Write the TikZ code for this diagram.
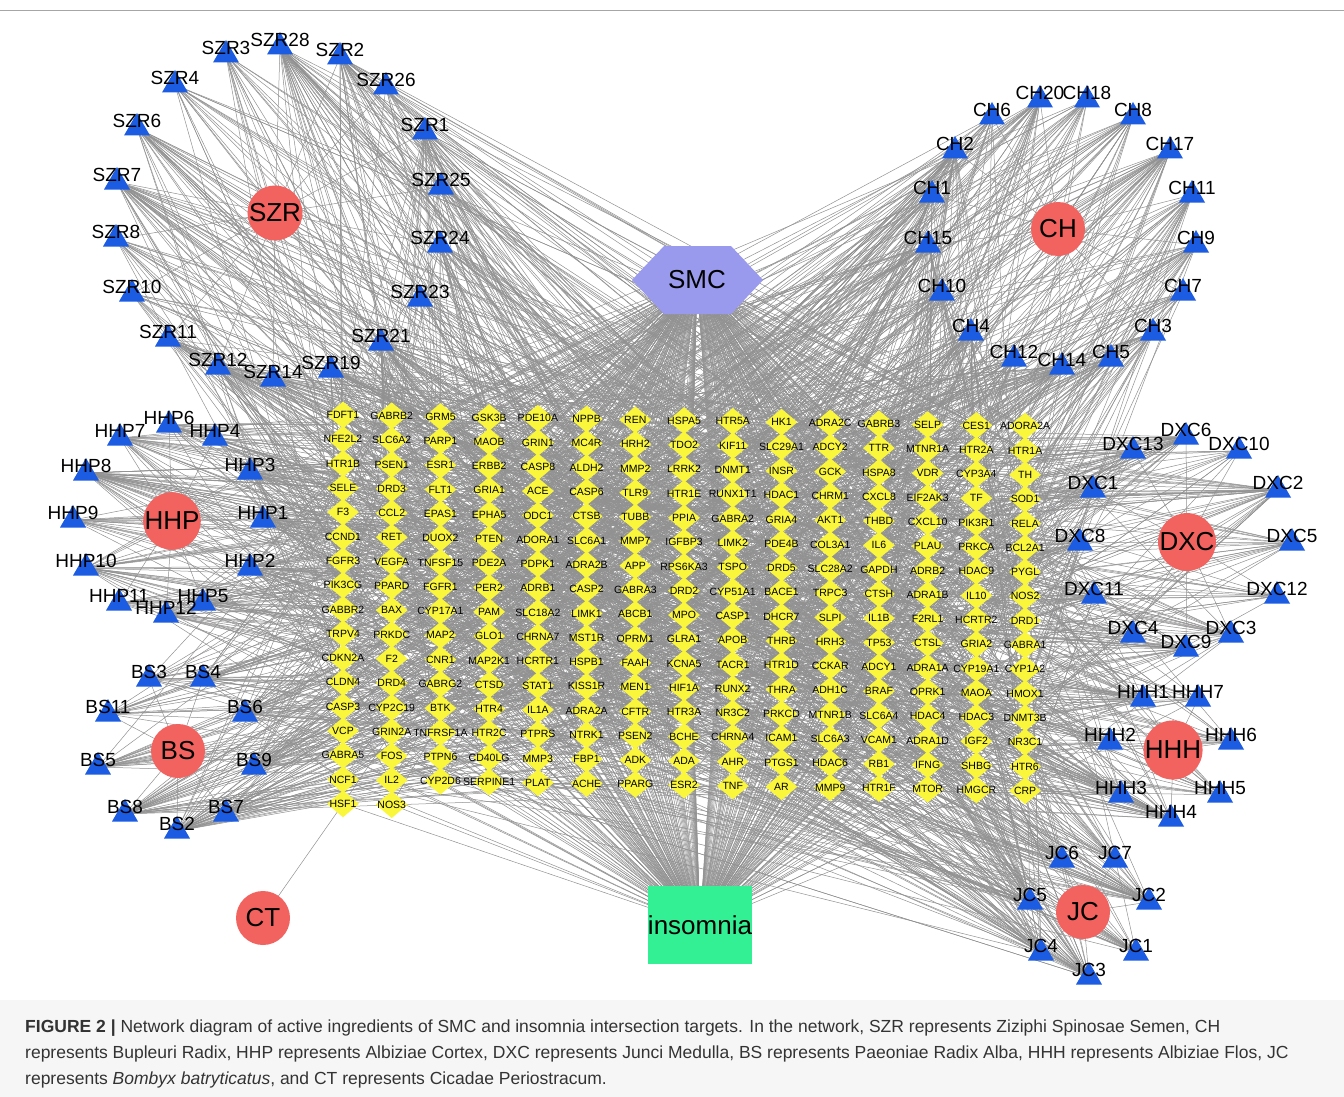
\documentclass[tikz,border=0pt]{standalone}
\usepackage{fontspec}
\setmainfont{Liberation Sans}
\usetikzlibrary{shapes.geometric}
\pgfdeclarelayer{bg}
\pgfsetlayers{bg,main}
\definecolor{herbred}{RGB}{242,98,94}
\definecolor{ingrblue}{RGB}{28,92,226}
\definecolor{geneyel}{RGB}{250,246,60}
\definecolor{smcblue}{RGB}{153,153,238}
\definecolor{insgreen}{RGB}{52,240,148}
\definecolor{edgegray}{RGB}{145,145,145}

\def\ingrlist{SZR/SZR3/226/48, SZR/SZR28/280/40, SZR/SZR2/340/50, SZR/SZR4/175/78,
  SZR/SZR26/386/80, SZR/SZR6/137/121, SZR/SZR1/425/125, SZR/SZR7/117/175,
  SZR/SZR25/441/180, SZR/SZR8/116/232, SZR/SZR24/440/238, SZR/SZR10/132/287,
  SZR/SZR23/420/292, SZR/SZR11/168/332, SZR/SZR21/381/336, SZR/SZR12/218/360,
  SZR/SZR14/273/372, SZR/SZR19/331/363,
  CH/CH20/1040/93, CH/CH18/1087/93, CH/CH6/992/110, CH/CH8/1133/110,
  CH/CH2/955/144, CH/CH17/1170/144, CH/CH1/932/188, CH/CH11/1192/188,
  CH/CH15/928/238, CH/CH9/1196/238, CH/CH10/942/286, CH/CH7/1183/286,
  CH/CH4/971/326, CH/CH3/1153/326, CH/CH12/1014/352, CH/CH14/1062/360,
  CH/CH5/1111/352,
  HHP/HHP6/169/418, HHP/HHP7/120/431, HHP/HHP4/215/431, HHP/HHP3/250/465,
  HHP/HHP8/86/466, HHP/HHP1/263/513, HHP/HHP9/73/513, HHP/HHP2/250/561,
  HHP/HHP10/86/561, HHP/HHP5/203/596, HHP/HHP11/119/596, HHP/HHP12/166/608,
  DXC/DXC6/1186/430, DXC/DXC13/1133/444, DXC/DXC10/1239/444, DXC/DXC1/1093/483,
  DXC/DXC2/1278/483, DXC/DXC8/1080/536, DXC/DXC5/1292/536, DXC/DXC11/1094/589,
  DXC/DXC12/1277/589, DXC/DXC4/1133/628, DXC/DXC3/1231/628, DXC/DXC9/1186/642,
  BS/BS3/149/672, BS/BS4/203/672, BS/BS11/108/707, BS/BS6/245/707,
  BS/BS5/98/760, BS/BS9/254/760, BS/BS8/125/807, BS/BS7/226/807, BS/BS2/177/824,
  HHH/HHH1/1143/692, HHH/HHH7/1198/692, HHH/HHH2/1110/735, HHH/HHH6/1231/735,
  HHH/HHH3/1121/788, HHH/HHH5/1220/788, HHH/HHH4/1171/812,
  JC/JC6/1062/853, JC/JC7/1115/853, JC/JC5/1030/895, JC/JC2/1149/895,
  JC/JC4/1041/946, JC/JC1/1136/946, JC/JC3/1089/970}

\begin{document}
\begin{tikzpicture}[x=1pt,y=-1pt,
  edge/.style={draw=edgegray,line width=0.5pt},
  gene/.style={diamond,fill=geneyel,inner sep=0pt,minimum width=32pt,minimum height=27pt},
  genelbl/.style={font=\fontsize{10.5}{10.5}\selectfont,inner sep=0pt},
  ingr/.style={regular polygon,regular polygon sides=3,fill=ingrblue,inner sep=0pt,minimum size=30pt},
  ingrlbl/.style={font=\fontsize{19}{19}\selectfont,inner sep=0pt,yshift=7pt},
  herb/.style={circle,fill=herbred,inner sep=0pt,minimum size=54pt,font=\fontsize{26}{26}\selectfont}]

	\useasboundingbox (0,0) rectangle (1344,1097);
	\fill[gray!7] (0,1000) rectangle (1344,1097);
	\draw[gray!70,line width=0.8pt] (0,10) -- (1344,10);

	% targets
	\foreach \names [count=\c] in {
	  {FDFT1,NFE2L2,HTR1B,SELE,F3,CCND1,FGFR3,PIK3CG,GABBR2,TRPV4,CDKN2A,CLDN4,CASP3,VCP,GABRA5,NCF1,HSF1},
	  {GABRB2,SLC6A2,PSEN1,DRD3,CCL2,RET,VEGFA,PPARD,BAX,PRKDC,F2,DRD4,CYP2C19,GRIN2A,FOS,IL2,NOS3},
	  {GRM5,PARP1,ESR1,FLT1,EPAS1,DUOX2,TNFSF15,FGFR1,CYP17A1,MAP2,CNR1,GABRG2,BTK,TNFRSF1A,PTPN6,CYP2D6},
	  {GSK3B,MAOB,ERBB2,GRIA1,EPHA5,PTEN,PDE2A,PER2,PAM,GLO1,MAP2K1,CTSD,HTR4,HTR2C,CD40LG,SERPINE1},
	  {PDE10A,GRIN1,CASP8,ACE,ODC1,ADORA1,PDPK1,ADRB1,SLC18A2,CHRNA7,HCRTR1,STAT1,IL1A,PTPRS,MMP3,PLAT},
	  {NPPB,MC4R,ALDH2,CASP6,CTSB,SLC6A1,ADRA2B,CASP2,LIMK1,MST1R,HSPB1,KISS1R,ADRA2A,NTRK1,FBP1,ACHE},
	  {REN,HRH2,MMP2,TLR9,TUBB,MMP7,APP,GABRA3,ABCB1,OPRM1,FAAH,MEN1,CFTR,PSEN2,ADK,PPARG},
	  {HSPA5,TDO2,LRRK2,HTR1E,PPIA,IGFBP3,RPS6KA3,DRD2,MPO,GLRA1,KCNA5,HIF1A,HTR3A,BCHE,ADA,ESR2},
	  {HTR5A,KIF11,DNMT1,RUNX1T1,GABRA2,LIMK2,TSPO,CYP51A1,CASP1,APOB,TACR1,RUNX2,NR3C2,CHRNA4,AHR,TNF},
	  {HK1,SLC29A1,INSR,HDAC1,GRIA4,PDE4B,DRD5,BACE1,DHCR7,THRB,HTR1D,THRA,PRKCD,ICAM1,PTGS1,AR},
	  {ADRA2C,ADCY2,GCK,CHRM1,AKT1,COL3A1,SLC28A2,TRPC3,SLPI,HRH3,CCKAR,ADH1C,MTNR1B,SLC6A3,HDAC6,MMP9},
	  {GABRB3,TTR,HSPA8,CXCL8,THBD,IL6,GAPDH,CTSH,IL1B,TP53,ADCY1,BRAF,SLC6A4,VCAM1,RB1,HTR1F},
	  {SELP,MTNR1A,VDR,EIF2AK3,CXCL10,PLAU,ADRB2,ADRA1B,F2RL1,CTSL,ADRA1A,OPRK1,HDAC4,ADRA1D,IFNG,MTOR},
	  {CES1,HTR2A,CYP3A4,TF,PIK3R1,PRKCA,HDAC9,IL10,HCRTR2,GRIA2,CYP19A1,MAOA,HDAC3,IGF2,SHBG,HMGCR},
	  {ADORA2A,HTR1A,TH,SOD1,RELA,BCL2A1,PYGL,NOS2,DRD1,GABRA1,CYP1A2,HMOX1,DNMT3B,NR3C1,HTR6,CRP}}
	  \foreach \g [count=\r] in \names
	    \node[gene,label={[genelbl]center:\g}] (t\c-\r) at ({343+(\c-1)*48.72},{415+(\c-1)*0.8+(\r-1)*24.3}) {};

	% herbs and ingredients
	\node[herb] (SZR) at (275,213) {SZR};
	\node[herb] (CH) at (1058,229) {CH};
	\node[herb] (HHP) at (172,521) {HHP};
	\node[herb] (DXC) at (1187,542) {DXC};
	\node[herb] (BS) at (178,751) {BS};
	\node[herb] (HHH) at (1173,750) {HHH};
	\node[herb] (JC) at (1083,912) {JC};
	\node[herb] (CT) at (263,918) {CT};
	\foreach \h/\n/\x/\y in \ingrlist
	  \node[ingr,label={[ingrlbl]center:\n}] (\n) at (\x,\y+7) {};

	\fill[smcblue] (632,280) -- (664,246) -- (731,246) -- (763,280) -- (731,314) -- (664,314) -- cycle;
	\node[font=\fontsize{26}{26}\selectfont] (SMC) at (697,280) {SMC};
	\node[fill=insgreen,minimum size=78pt,inner sep=0pt,font=\fontsize{26}{26}\selectfont] (insomnia) at (700,925) {insomnia};

	\begin{pgfonlayer}{bg}
	\foreach \c in {1,...,15} {
	  \pgfmathtruncatemacro\n{\c<3 ? 17 : 16}
	  \foreach \r in {1,...,\n} {
	    \draw[edge] (SMC.center) -- (t\c-\r.center);
	    \draw[edge] (insomnia.center) -- (t\c-\r.center);
	  }
	}
	\pgfmathsetseed{1357}
	\foreach \h/\n/\x/\y in \ingrlist {
	  \draw[edge] (\h.center) -- (\n.center);
	  \pgfmathrandominteger\k{12}{42}
	  \foreach \j in {1,...,\k} {
	    \pgfmathrandominteger\c{1}{15}
	    \pgfmathrandominteger\r{1}{16}
	    \draw[edge] (\n.center) -- (t\c-\r.center);
	  }
	}
	\draw[edge] (CT.center) -- (t1-17.center);
	\end{pgfonlayer}

	\node[anchor=north west,align=left,inner sep=0pt,text=black!80,
	  font=\fontsize{17.5}{26}\selectfont] (caption) at (25,1020)
	  {\textbf{FIGURE 2 |} Network diagram of active ingredients of SMC and insomnia intersection targets. In the network, SZR represents Ziziphi Spinosae Semen, CH\\
	  represents Bupleuri Radix, HHP represents Albiziae Cortex, DXC represents Junci Medulla, BS represents Paeoniae Radix Alba, HHH represents Albiziae Flos, JC\\
	  represents \textit{Bombyx batryticatus}, and CT represents Cicadae Periostracum.};

	\end{tikzpicture}
\end{document}
